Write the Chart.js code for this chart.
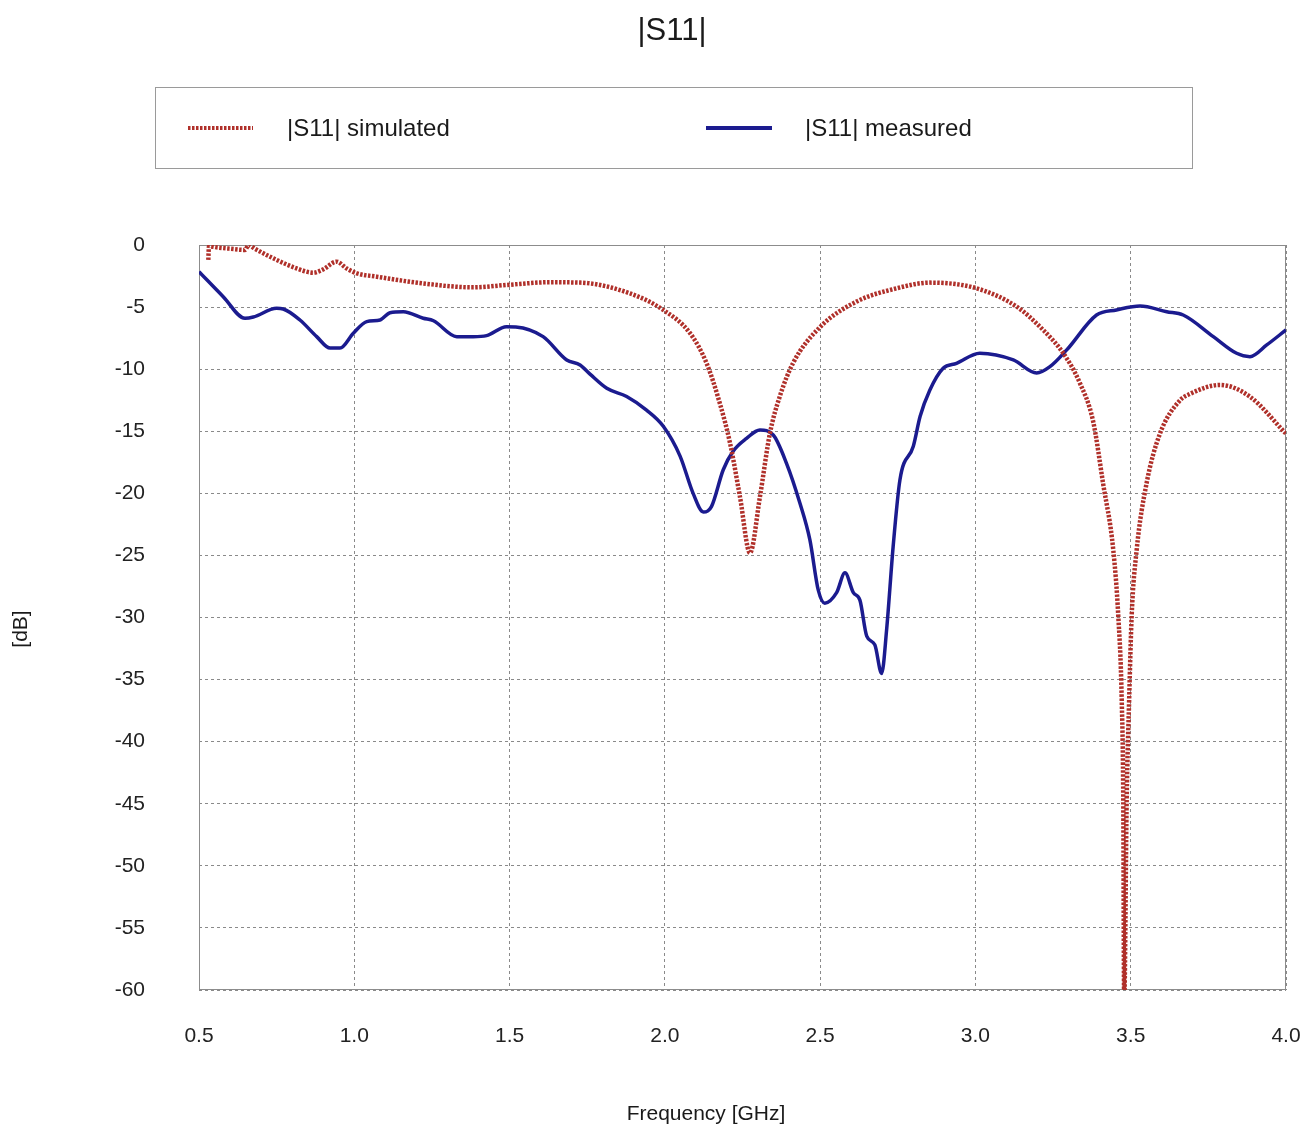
<!DOCTYPE html>
<html lang="en">
<head>
    <meta charset="UTF-8">
    <title>|S11|</title>
    <script src="https://cdn.jsdelivr.net/npm/chart.js"></script>
    <style>
        body { margin: 0; background: #ffffff; }
        #wrap { width: 1304px; height: 1130px; position: relative; }
    </style>
</head>
<body>
<div id="wrap"><canvas id="s11Chart" width="1304" height="1130"></canvas></div>

<script>
    // values
    const simFreq = [0.530, 0.532, 0.560, 0.600, 0.648, 0.660, 0.680, 0.739, 0.814, 0.868, 0.900, 0.943, 0.975, 1.008,
                     1.072, 1.220, 1.382, 1.490, 1.630, 1.727, 1.888, 1.995, 2.081, 2.134, 2.177, 2.210, 2.242, 2.274,
                     2.306, 2.338, 2.370, 2.413, 2.500, 2.617, 2.746, 2.853, 3.004, 3.133, 3.218, 3.283, 3.336, 3.379,
                     3.411, 3.444, 3.460, 3.471, 3.476, 3.479, 3.487, 3.495, 3.503, 3.519, 3.551, 3.594, 3.659, 3.690,
                     3.787, 3.883, 4.000];
    const simDb   = [-1.2, -0.1, -0.2, -0.3, -0.4, 0.0, -0.3, -1.07, -1.88, -2.23, -1.96, -1.34, -1.88, -2.28,
                     -2.55, -3.09, -3.41, -3.22, -3.0, -3.03, -3.9, -5.23, -7.1, -9.5, -12.75, -15.97, -20.3, -24.8,
                     -20.3, -15.2, -12.2, -9.5, -6.6, -4.56, -3.49, -3.03, -3.49, -4.97, -6.84, -8.72, -11.1, -14.2,
                     -19.2, -24.6, -29.9, -36.6, -44.7, -61.0, -44.7, -36.6, -29.9, -24.6, -19.2, -15.2, -12.5, -12.0,
                     -11.27, -12.2, -15.2];

    const measFreq = [0.500, 0.578, 0.648, 0.675, 0.750, 0.771, 0.825, 0.879, 0.922, 0.954, 0.997, 1.040, 1.083, 1.115,
                      1.158, 1.222, 1.255, 1.330, 1.383, 1.426, 1.490, 1.520, 1.608, 1.684, 1.727, 1.759, 1.813, 1.877,
                      1.941, 1.995, 2.049, 2.091, 2.124, 2.150, 2.188, 2.220, 2.263, 2.306, 2.349, 2.392, 2.435, 2.467,
                      2.494, 2.515, 2.553, 2.580, 2.607, 2.628, 2.650, 2.676, 2.698, 2.714, 2.735, 2.757, 2.800, 2.822,
                      2.853, 2.896, 2.939, 3.014, 3.122, 3.197, 3.240, 3.294, 3.390, 3.454, 3.530, 3.616, 3.669, 3.766,
                      3.841, 3.884, 3.938, 4.000];
    const measDb   = [-2.15, -4.16, -5.9, -5.8, -5.1, -5.15, -6.04, -7.38, -8.3, -8.3, -7.1, -6.17, -6.04, -5.45,
                      -5.37, -5.9, -6.1, -7.38, -7.38, -7.3, -6.58, -6.6, -7.38, -9.26, -9.66, -10.4, -11.54, -12.2,
                      -13.3, -14.6, -17.0, -20.0, -21.5, -21.07, -18.1, -16.6, -15.57, -14.9, -15.3, -17.6, -20.8, -23.75,
                      -27.8, -28.85, -28.0, -26.4, -28.0, -28.6, -31.5, -32.2, -34.5, -31.0, -24.3, -18.9, -16.2, -13.8,
                      -11.7, -9.93, -9.53, -8.72, -9.26, -10.3, -9.8, -8.45, -5.64, -5.23, -4.91, -5.37, -5.64, -7.38,
                      -8.72, -8.99, -8.05, -6.84];

    const xTicks = [0.5, 1.0, 1.5, 2.0, 2.5, 3.0, 3.5, 4.0];
    const yTicks = [0, -5, -10, -15, -20, -25, -30, -35, -40, -45, -50, -55, -60];

    const seriesNames = ["|S11| simulated", "|S11| measured"];
    const chartTitle = "|S11|";
    const xTitle = "Frequency [GHz]";
    const yTitle = "[dB]";

    const RED = "#b0302a";
    const BLUE = "#1b1b8f";
    const FONT = "'Liberation Sans', Arial, sans-serif";

    const toPoints = (xs, ys) => xs.map((x, i) => ({ x: x, y: ys[i] }));

    // title, legend box, plot frame and axis titles
    const decorPlugin = {
        id: "decor",
        beforeDatasetsDraw(chart) {
            const ctx = chart.ctx;
            const a = chart.chartArea;
            ctx.save();
            ctx.strokeStyle = "#8c8c8c";
            ctx.lineWidth = 1;
            ctx.strokeRect(a.left + 0.5, a.top + 0.5, a.right - a.left - 1, a.bottom - a.top - 1);
            ctx.restore();
        },
        afterDraw(chart) {
            const ctx = chart.ctx;
            ctx.save();
            ctx.fillStyle = "#1a1a1a";
            ctx.textAlign = "center";
            ctx.textBaseline = "middle";
            ctx.font = "31px " + FONT;
            ctx.fillText(chartTitle, 672, 31);

            // legend box
            ctx.strokeStyle = "#9a9a9a";
            ctx.lineWidth = 1;
            ctx.strokeRect(155.5, 87.5, 1037, 81);

            ctx.lineWidth = 4;
            ctx.strokeStyle = RED;
            ctx.setLineDash([2.5, 1.5]);
            ctx.beginPath(); ctx.moveTo(188, 128); ctx.lineTo(253, 128); ctx.stroke();
            ctx.setLineDash([]);
            ctx.strokeStyle = BLUE;
            ctx.beginPath(); ctx.moveTo(706, 128); ctx.lineTo(772, 128); ctx.stroke();

            ctx.font = "24px " + FONT;
            ctx.textAlign = "left";
            ctx.fillText(seriesNames[0], 287, 129);
            ctx.fillText(seriesNames[1], 805, 129);

            // axis titles
            ctx.font = "21px " + FONT;
            ctx.textAlign = "center";
            ctx.fillText(xTitle, 706, 1114);
            ctx.translate(21, 629);
            ctx.rotate(-Math.PI / 2);
            ctx.fillText(yTitle, 0, 0);
            ctx.restore();
        }
    };

    const ctx = document.getElementById("s11Chart").getContext("2d");
    new Chart(ctx, {
        type: "line",
        data: {
            datasets: [
                {
                    label: seriesNames[0],
                    data: toPoints(simFreq, simDb),
                    borderColor: RED,
                    borderWidth: 4.5,
                    borderDash: [2.5, 1.5],
                    pointRadius: 0,
                    cubicInterpolationMode: "monotone",
                    fill: false
                },
                {
                    label: seriesNames[1],
                    data: toPoints(measFreq, measDb),
                    borderColor: BLUE,
                    borderWidth: 3.5,
                    pointRadius: 0,
                    cubicInterpolationMode: "monotone",
                    fill: false
                }
            ]
        },
        options: {
            responsive: false,
            animation: false,
            layout: { padding: { top: 245, right: 18, left: 0, bottom: 0 } },
            plugins: {
                legend: { display: false },
                title: { display: false },
                tooltip: { enabled: false }
            },
            scales: {
                x: {
                    type: "linear",
                    min: 0.5,
                    max: 4.0,
                    afterBuildTicks: (scale) => { scale.ticks = xTicks.map(v => ({ value: v })); },
                    afterFit: (scale) => { scale.height = 140; scale.paddingLeft = 0; scale.paddingRight = 0; },
                    ticks: {
                        padding: 34,
                        color: "#222222",
                        font: { family: FONT, size: 21 },
                        callback: (v) => Number(v).toFixed(1)
                    },
                    grid: { color: "#8a8a8a", lineWidth: 1, drawTicks: false },
                    border: { display: false, dash: [3, 3] }
                },
                y: {
                    min: -60,
                    max: 0,
                    afterBuildTicks: (scale) => { scale.ticks = yTicks.map(v => ({ value: v })); },
                    afterFit: (scale) => { scale.width = 199; scale.paddingTop = 0; scale.paddingBottom = 0; },
                    ticks: {
                        padding: 54,
                        color: "#222222",
                        font: { family: FONT, size: 21 }
                    },
                    grid: { color: "#8a8a8a", lineWidth: 1, drawTicks: false },
                    border: { display: false, dash: [3, 3] }
                }
            }
        },
        plugins: [decorPlugin]
    });
</script>
</body>
</html>
